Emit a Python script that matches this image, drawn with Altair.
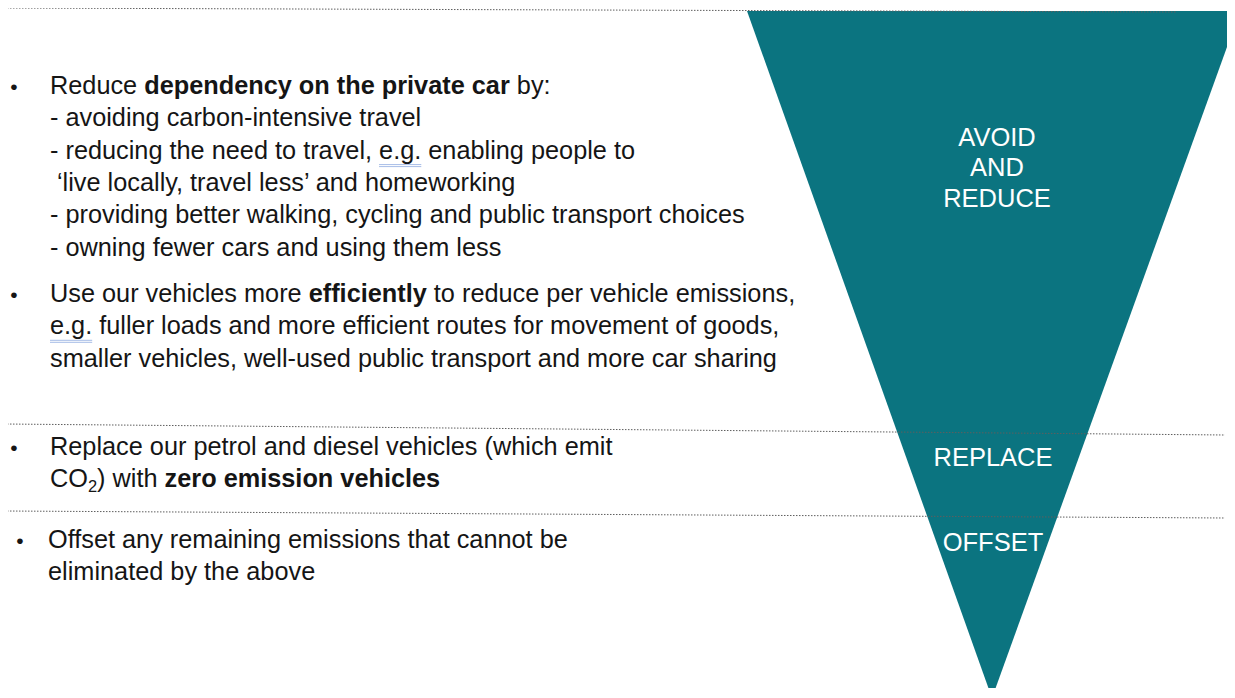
import altair as alt
import pandas as pd

# ---------------- content ----------------
p1_lead = "Reduce "
p1_bold = "dependency on the private car"
p1_tail = " by:"
p1_items = [
    "- avoiding carbon-intensive travel",
    "- reducing the need to travel, e.g. enabling people to",
    "\u2018live locally, travel less\u2019 and homeworking",
    "- providing better walking, cycling and public transport choices",
    "- owning fewer cars and using them less",
]
p2_lead = "Use our vehicles more "
p2_bold = "efficiently"
p2_tail = " to reduce per vehicle emissions,"
p2_lines = [
    "e.g. fuller loads and more efficient routes for movement of goods,",
    "smaller vehicles, well-used public transport and more car sharing",
]
p3_line1 = "Replace our petrol and diesel vehicles (which emit"
p3_co = "CO"
p3_sub = "2"
p3_mid = ") with "
p3_bold = "zero emission vehicles"
p4_lines = ["Offset any remaining emissions that cannot be", "eliminated by the above"]
eg_prefix = "- reducing the need to travel, "
eg_word = "e.g."

labels = ["AVOID", "AND", "REDUCE", "REPLACE", "OFFSET"]

# funnel shape (top edge, apex) and divider lines, in page pixels
funnel_y = [11, 698]
funnel_left = [747, 992]
funnel_right = [1240, 992]
div_x1 = [4, 4, 4]
div_x2 = [1176, 1225, 1225]
div_y1 = [8, 424, 511]
div_y2 = [12, 435, 518]

# ---------------- layout ----------------
W, H = 1219, 680
X0, Y0 = 8, 8
FONT = "Liberation Sans"
BODY = 25.3
SUBSZ = 16.5
LABEL = 25.5
BULLET = 21
TEAL = "#0b7480"
INK = "#151515"
DOT = "#5e5e5e"

REG = {" ": 278, ",": 278, ".": 278, ":": 278, "-": 333, "(": 333, ")": 333,
       "\u2018": 222, "\u2019": 222, "2": 556,
       "a": 556, "b": 556, "c": 500, "d": 556, "e": 556, "f": 278, "g": 556, "h": 556,
       "i": 222, "j": 222, "k": 500, "l": 222, "m": 833, "n": 556, "o": 556, "p": 556,
       "q": 556, "r": 333, "s": 500, "t": 278, "u": 556, "v": 500, "w": 722, "x": 500,
       "y": 500, "z": 500,
       "A": 667, "B": 667, "C": 722, "D": 722, "E": 667, "F": 611, "G": 778, "H": 722,
       "I": 278, "J": 500, "K": 667, "L": 556, "M": 833, "N": 722, "O": 778, "P": 667,
       "Q": 778, "R": 722, "S": 667, "T": 611, "U": 722, "V": 667, "W": 944, "X": 667,
       "Y": 667, "Z": 611}
BOLD = {" ": 278, "a": 556, "b": 611, "c": 556, "d": 611, "e": 556, "f": 333, "g": 611,
        "h": 611, "i": 278, "j": 278, "k": 556, "l": 278, "m": 889, "n": 611, "o": 611,
        "p": 611, "q": 611, "r": 389, "s": 556, "t": 333, "u": 611, "v": 556, "w": 778,
        "x": 556, "y": 556, "z": 500}


def tw(s, table, size):
    return sum(table.get(c, 556) for c in s) * size / 1000.0


TX = 50
base1 = [94, 126.3, 158.6, 191, 223.3, 255.6]
base2 = [302, 334.3, 366.6]
base3 = [455, 487]
base4 = [548, 579.5]

reg_rows, bold_rows, sub_rows = [], [], []

# paragraph 1
x = TX
reg_rows.append((x, base1[0], p1_lead.strip()))
x += tw(p1_lead, REG, BODY)
bold_rows.append((x, base1[0], p1_bold))
x += tw(p1_bold, BOLD, BODY) + tw(" ", REG, BODY)
reg_rows.append((x, base1[0], p1_tail.strip()))
for i, item in enumerate(p1_items):
    reg_rows.append((TX + (7 if i == 2 else 0), base1[i + 1], item))

# paragraph 2
x = TX
reg_rows.append((x, base2[0], p2_lead.strip()))
x += tw(p2_lead, REG, BODY)
bold_rows.append((x, base2[0], p2_bold))
x += tw(p2_bold, BOLD, BODY) + tw(" ", REG, BODY)
reg_rows.append((x, base2[0], p2_tail.strip()))
for i, line in enumerate(p2_lines):
    reg_rows.append((TX, base2[i + 1], line))

# paragraph 3
reg_rows.append((TX, base3[0], p3_line1))
x = TX
reg_rows.append((x, base3[1], p3_co))
x += tw(p3_co, REG, BODY)
sub_rows.append((x, base3[1] + 5, p3_sub))
x += tw(p3_sub, REG, SUBSZ)
reg_rows.append((x, base3[1], p3_mid.strip()))
x += tw(p3_mid, REG, BODY)
bold_rows.append((x, base3[1], p3_bold))

# paragraph 4
for i, line in enumerate(p4_lines):
    reg_rows.append((48, base4[i], line))

reg_df = pd.DataFrame(reg_rows, columns=["x", "y", "t"])
bold_df = pd.DataFrame(bold_rows, columns=["x", "y", "t"])
sub_df = pd.DataFrame(sub_rows, columns=["x", "y", "t"])
bullet_df = pd.DataFrame({"x": [14, 14, 14, 20],
                          "y": [base1[0], base2[0], base3[0], base4[0]],
                          "t": ["\u2022"] * 4})
label_df = pd.DataFrame({"x": [997, 997, 997, 993, 993],
                         "y": [138, 168, 199, 458, 543],
                         "t": labels})

funnel_df = pd.DataFrame({"y": funnel_y, "x": funnel_left, "x2": funnel_right})
div_df = pd.DataFrame({"x": div_x1, "x2": div_x2, "y": div_y1, "y2": div_y2})

eg1 = TX + tw(eg_prefix, REG, BODY)
egw = tw(eg_word, REG, BODY)
ul_df = pd.DataFrame({
    "x": [eg1, eg1, TX, TX],
    "x2": [eg1 + egw, eg1 + egw, TX + egw, TX + egw],
    "y": [base1[2] + 6, base1[2] + 8, base2[1] + 6, base2[1] + 8],
})

xs = alt.Scale(domain=[X0, X0 + W], zero=False, nice=False)
ys = alt.Scale(domain=[Y0, Y0 + H], zero=False, nice=False, reverse=True)


def X(f="x"):
    return alt.X(f"{f}:Q", scale=xs, axis=None)


def Y(f="y"):
    return alt.Y(f"{f}:Q", scale=ys, axis=None)


funnel = alt.Chart(funnel_df).mark_area(orient="horizontal", color=TEAL, clip=True).encode(
    y=Y(), x=X(), x2="x2:Q")

dividers = alt.Chart(div_df).mark_rule(color=DOT, strokeWidth=1, strokeDash=[1.5, 1.5]).encode(
    x=X(), x2="x2:Q", y=Y(), y2="y2:Q")

underline = alt.Chart(ul_df).mark_rule(color="#8ea9e0", strokeWidth=0.8).encode(
    x=X(), x2="x2:Q", y=Y())

common = dict(font=FONT, align="left", baseline="alphabetic", color=INK)
reg = alt.Chart(reg_df).mark_text(fontSize=BODY, **common).encode(x=X(), y=Y(), text="t:N")
bold = alt.Chart(bold_df).mark_text(fontSize=BODY, fontWeight="bold", **common).encode(
    x=X(), y=Y(), text="t:N")
sub = alt.Chart(sub_df).mark_text(fontSize=SUBSZ, **common).encode(x=X(), y=Y(), text="t:N")
bullets = alt.Chart(bullet_df).mark_text(fontSize=BULLET, font=FONT, align="center",
                                         baseline="alphabetic", color=INK).encode(
    x=X(), y=Y(), text="t:N")
labs = alt.Chart(label_df).mark_text(fontSize=LABEL, font=FONT, align="center",
                                     baseline="middle", color="white").encode(
    x=X(), y=Y(), text="t:N")

chart = alt.layer(funnel, dividers, underline, reg, bold, sub, bullets, labs).properties(
    width=W, height=H, padding=0, autosize="none", background="white"
).configure_view(stroke=None)

chart.save("out.html", embed_options={"renderer": "svg", "actions": False})
